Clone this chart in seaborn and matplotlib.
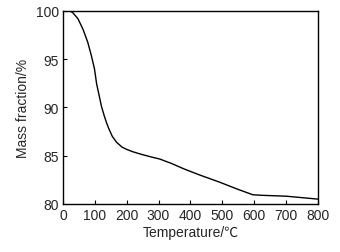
import matplotlib
matplotlib.use("Agg")
import matplotlib.pyplot as plt
import pandas as pd
import seaborn as sns

# TGA curve
temperature = [20, 30, 47, 63, 78, 89, 99, 106, 114, 121, 130, 137, 144, 155, 168,
               185, 200, 220, 245, 273, 304, 340, 382, 429, 492, 550, 596, 620,
               660, 701, 750, 800]
mass_fraction = [100, 99.85, 99.2, 98.1, 96.75, 95.4, 94.0, 92.4, 91.2, 90.1, 89.1,
                 88.4, 87.8, 87.0, 86.4, 85.9, 85.65, 85.4, 85.15, 84.9, 84.65, 84.2,
                 83.6, 83.0, 82.25, 81.5, 80.95, 80.9, 80.85, 80.8, 80.65, 80.5]
x_ticks = [0, 100, 200, 300, 400, 500, 600, 700, 800]
y_ticks = [80, 85, 90, 95, 100]

sns.set_theme(style="ticks")
plt.rcParams["font.family"] = ["Liberation Sans", "Noto Sans CJK SC"]
plt.rcParams["xtick.direction"] = "in"
plt.rcParams["ytick.direction"] = "in"

df = pd.DataFrame({"T": temperature, "m": mass_fraction})

fig = plt.figure(figsize=(3.4, 2.53), dpi=100)
ax = fig.add_axes([0.185, 0.19, 0.75, 0.763])
sns.lineplot(data=df, x="T", y="m", ax=ax, color="black", lw=1.0)

ax.set_xlim(0, 800)
ax.set_ylim(80, 100)
ax.set_xticks(x_ticks)
ax.set_yticks(y_ticks)
ax.tick_params(labelsize=10, length=3, width=0.8, color="black", pad=3)
ax.set_xlabel("Temperature/℃", fontsize=10, labelpad=2)
ax.set_ylabel("Mass fraction/%", fontsize=10, labelpad=4)
for s in ax.spines.values():
    s.set_color("black")
    s.set_linewidth(1.0)

fig.savefig("out.png", dpi=100)
